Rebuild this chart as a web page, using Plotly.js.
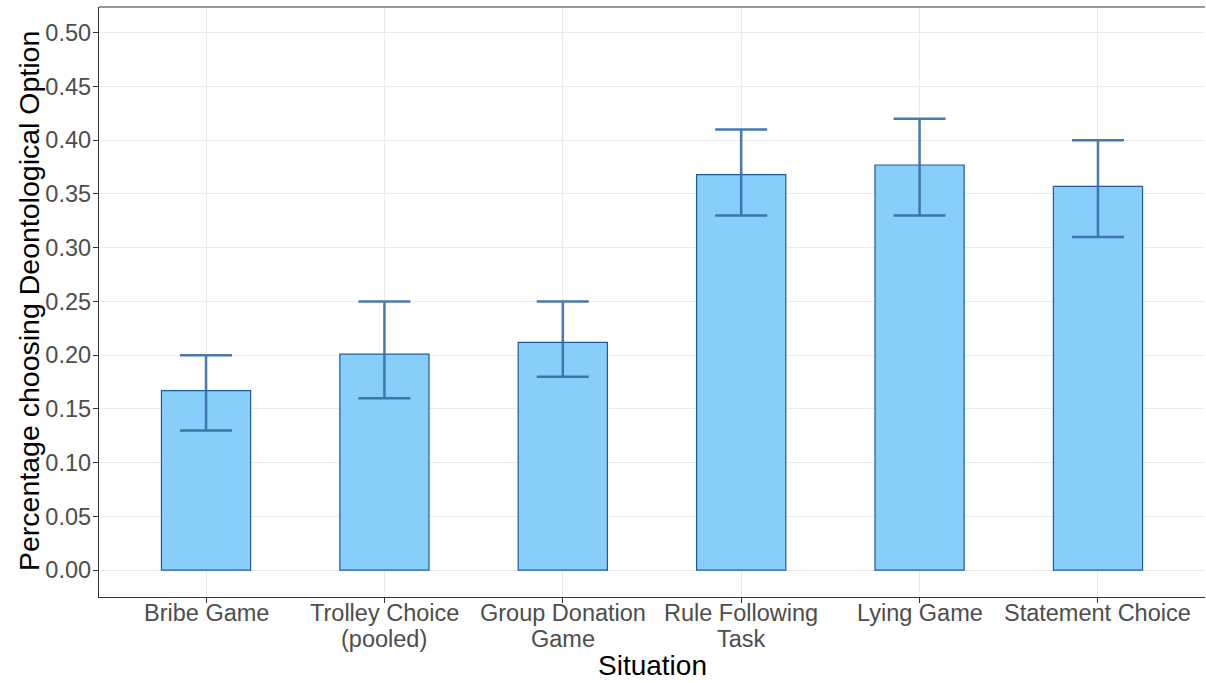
<!DOCTYPE html>
<html><head><meta charset="utf-8">
<script src="https://cdn.plot.ly/plotly-3.0.1.min.js"></script>
<style>html,body{margin:0;padding:0;background:#fff;}</style>
</head><body>
<div id="chart" style="width:1206px;height:683px;"></div>
<script>
const categories = ["Bribe Game", "Trolley Choice<br>(pooled)", "Group Donation<br>Game", "Rule Following<br>Task", "Lying Game", "Statement Choice"];
const shares = [0.167, 0.201, 0.212, 0.368, 0.377, 0.357];
const ciLow = [0.13, 0.16, 0.18, 0.33, 0.33, 0.31];
const ciHigh = [0.20, 0.25, 0.25, 0.41, 0.42, 0.40];
const yTicks = [0, 0.05, 0.10, 0.15, 0.20, 0.25, 0.30, 0.35, 0.40, 0.45, 0.50];
const xTitle = 'Situation';
const yTitle = 'Percentage choosing Deontological Option';

const bars = {
  type: 'bar', x: categories, y: shares, width: 0.5,
  marker: {color: '#87CEFA', line: {color: '#1f5a9e', width: 1.2}},
  hoverinfo: 'skip', showlegend: false
};
const errs = {
  type: 'scatter', mode: 'markers', x: categories, y: shares,
  marker: {size: 0.1, color: 'rgba(0,0,0,0)'},
  error_y: {type: 'data', symmetric: false,
    array: ciHigh.map((h, i) => h - shares[i]),
    arrayminus: shares.map((s, i) => s - ciLow[i]),
    color: 'rgba(52,107,168,0.9)', thickness: 2.5, width: 26},
  hoverinfo: 'skip', showlegend: false
};

const labelFont = {family: 'Liberation Sans, Arial, sans-serif', size: 23.5, color: '#4d4d4d'};
const annotations = [];
categories.forEach(c => {
  c.split('<br>').forEach((line, k) => {
    annotations.push({xref: 'x', yref: 'paper', x: c, y: 0, yanchor: 'top', xanchor: 'center',
      yshift: -1 - 26 * k, text: line, showarrow: false, font: labelFont});
  });
});
annotations.push({xref: 'paper', yref: 'paper', x: 0.5, y: 0, yanchor: 'middle', xanchor: 'center',
  yshift: -68, text: xTitle, showarrow: false,
  font: {family: 'Liberation Sans, Arial, sans-serif', size: 28, color: '#000'}});
annotations.push({xref: 'paper', yref: 'paper', x: 0, y: 0.5017, yanchor: 'middle', xanchor: 'center',
  xshift: -70, textangle: -90, text: yTitle, showarrow: false,
  font: {family: 'Liberation Sans, Arial, sans-serif', size: 28.5, color: '#000'}});

const layout = {
  width: 1206, height: 683,
  margin: {l: 99, r: 1, t: 7, b: 86},
  paper_bgcolor: '#fff', plot_bgcolor: '#fff',
  font: {family: 'Liberation Sans, Arial, sans-serif'},
  xaxis: {
    range: [-0.6, 5.6], showgrid: true, gridcolor: '#ebebeb', gridwidth: 1,
    showline: true, linecolor: '#333', linewidth: 1.2,
    ticks: 'outside', ticklen: 5, tickcolor: '#333',
    showticklabels: false, zeroline: false
  },
  yaxis: {
    range: [-0.025, 0.524], tickvals: yTicks, ticktext: yTicks.map(v => v.toFixed(2)),
    showgrid: true, gridcolor: '#ebebeb', gridwidth: 1,
    showline: true, linecolor: '#333', linewidth: 1.2,
    ticks: 'outside', ticklen: 5, tickcolor: '#333', ticklabelstandoff: -3,
    tickfont: labelFont, zeroline: false
  },
  annotations: annotations,
  shapes: [{type: 'line', xref: 'paper', yref: 'paper', x0: 0, x1: 1, y0: 1, y1: 1,
    line: {color: '#333', width: 1.2}}],
  bargap: 0.5
};
Plotly.newPlot('chart', [bars, errs], layout, {displayModeBar: false, staticPlot: true});
</script>
</body></html>
